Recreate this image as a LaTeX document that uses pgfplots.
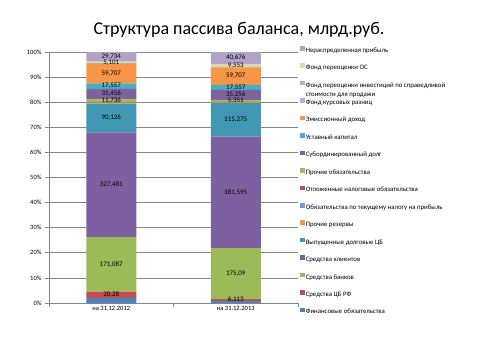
\documentclass[border=0pt]{standalone}
\usepackage{fontspec}
\setmainfont{Carlito}
\usepackage{pgfplots}
\usepackage{pgfplotstable}
\pgfplotsset{compat=1.18}
\definecolor{cfin}{HTML}{4F81BD}
\definecolor{ccb}{HTML}{C0504D}
\definecolor{cbank}{HTML}{9BBB59}
\definecolor{ckli}{HTML}{7D60A0}
\definecolor{cvyp}{HTML}{4198B3}
\definecolor{crez}{HTML}{F79646}
\definecolor{ctek}{HTML}{6F9ED5}
\definecolor{cotl}{HTML}{C0504D}
\definecolor{cproch}{HTML}{A2BA5C}
\definecolor{csub}{HTML}{7F62A0}
\definecolor{cust}{HTML}{4BACC6}
\definecolor{cemi}{HTML}{F79646}
\definecolor{ckur}{HTML}{A7B9E0}
\definecolor{cinv}{HTML}{D9A5A3}
\definecolor{cos}{HTML}{D4DDB0}
\definecolor{cnrp}{HTML}{B3A2C7}
\definecolor{gridgray}{HTML}{868686}
\pgfplotstableread{
x fin cb bank kli vyp rez tek otl proch sub ust emi kur inv os nrp tot
0 15 20.28 171.087 327.481 90.126 1.5 0.5 0.8 11.736 31.456 17.557 59.707 0.3 3 5.101 29.734 785.365
1 7 6.113 175.09 381.595 115.275 2 1 1 5.351 35.256 17.557 59.707 0.3 2 9.553 40.676 859.473
}\data
\pgfplotsset{
  sq legend/.style={legend image code/.code={\fill[##1] (0pt,-0.1pt) rectangle (4.6pt,4.5pt);}},
  common/.style={scale only axis, width=249pt, height=251pt, at={(49pt,57pt)}, anchor=south west,
    xmin=-0.5, xmax=1.5, ymin=0, ymax=100},
}
\newcommand{\seg}[2]{\addplot[fill=#2, draw=none] table[x=x, y expr=\thisrow{#1}/\thisrow{tot}*100]{\data};}
\newcommand{\lab}[2]{\addplot[draw=none, mark=none, point meta=\thisrow{#1}] table[x=x, y expr=(#2)/\thisrow{tot}*100]{\data};}
\begin{document}
\begin{tikzpicture}
\useasboundingbox (0,0) rectangle (480pt,360pt);
\begin{axis}[common,
  ybar stacked, bar width=50pt,
  every axis plot post/.append style={sq legend},
  axis lines=left, axis line style={-, draw=gridgray, line width=0.7pt},
  tick style={draw=gridgray, line width=0.7pt}, major tick length=4pt, tick align=outside,
  ymajorgrids, grid style={draw=gridgray, line width=0.7pt},
  ytick={0,10,...,100},
  yticklabels={0\%,10\%,20\%,30\%,40\%,50\%,60\%,70\%,80\%,90\%,100\%},
  xtick={-0.5,0.5,1.5}, xticklabels={,,},
  extra x ticks={0,1}, extra x tick labels={на 31.12.2012,на 31.12.2013},
  extra x tick style={major tick length=0pt},
  ticklabel style={font=\fontsize{6.5}{8}\selectfont, black},
  legend style={at={(axis description cs:1.008,1.025)}, anchor=north west, draw=none, fill=none,
    inner sep=0pt, row sep=8.7pt, font=\fontsize{6.8}{8}\selectfont,
    nodes={inner sep=1pt, text height=5pt, text depth=1.5pt}},
  legend cell align=left, reverse legend,
]
\seg{fin}{cfin}   \addlegendentry{Финансовые обязательства}
\seg{cb}{ccb}     \addlegendentry{Средства ЦБ РФ}
\seg{bank}{cbank} \addlegendentry{Средства банков}
\seg{kli}{ckli}   \addlegendentry{Средства клиентов}
\seg{vyp}{cvyp}   \addlegendentry{Выпущенные долговые ЦБ}
\seg{rez}{crez}   \addlegendentry{Прочие резервы}
\seg{tek}{ctek}   \addlegendentry{Обязательства по текущему налогу на прибыль}
\seg{otl}{cotl}   \addlegendentry{Отложенные налоговые обязательства}
\seg{proch}{cproch} \addlegendentry{Прочие обязательства}
\seg{sub}{csub}   \addlegendentry{Субординированный долг}
\seg{ust}{cust}   \addlegendentry{Уставный капитал}
\seg{emi}{cemi}   \addlegendentry{Эмиссионный доход}
\seg{kur}{ckur}   \addlegendentry{Фонд курсовых разниц}
\seg{inv}{cinv}   \addlegendentry{\smash{\vtop{\baselineskip=9pt\hbox{Фонд переоценки инвестиций по справедливой}\hbox{стоимости для продажи}}}}
\seg{os}{cos}     \addlegendentry{Фонд переоценки ОС}
\seg{nrp}{cnrp}   \addlegendentry{Нераспределенная прибыль}
\end{axis}
\begin{axis}[common, hide axis,
  nodes near coords={\pgfmathprintnumber[fixed,precision=3,use comma,1000 sep={},assume math mode=true]{\pgfplotspointmeta}},
  every node near coord/.append style={font=\fontsize{7}{8}\selectfont, anchor=center, black},
]
\lab{cb}{\thisrow{fin}+0.5*\thisrow{cb}}
\lab{bank}{\thisrow{fin}+\thisrow{cb}+0.5*\thisrow{bank}}
\lab{kli}{\thisrow{fin}+\thisrow{cb}+\thisrow{bank}+0.5*\thisrow{kli}}
\lab{vyp}{\thisrow{fin}+\thisrow{cb}+\thisrow{bank}+\thisrow{kli}+0.5*\thisrow{vyp}}
\lab{proch}{\thisrow{tot}-\thisrow{nrp}-\thisrow{os}-\thisrow{inv}-\thisrow{kur}-\thisrow{emi}-\thisrow{ust}-\thisrow{sub}-0.5*\thisrow{proch}}
\lab{sub}{\thisrow{tot}-\thisrow{nrp}-\thisrow{os}-\thisrow{inv}-\thisrow{kur}-\thisrow{emi}-\thisrow{ust}-0.5*\thisrow{sub}}
\lab{ust}{\thisrow{tot}-\thisrow{nrp}-\thisrow{os}-\thisrow{inv}-\thisrow{kur}-\thisrow{emi}-0.5*\thisrow{ust}}
\lab{emi}{\thisrow{tot}-\thisrow{nrp}-\thisrow{os}-\thisrow{inv}-\thisrow{kur}-0.5*\thisrow{emi}}
\lab{os}{\thisrow{tot}-\thisrow{nrp}-0.5*\thisrow{os}}
\lab{nrp}{\thisrow{tot}-0.5*\thisrow{nrp}}
\end{axis}
\node[font=\fontsize{18}{21}\selectfont, black] at (239pt,330pt) {Структура пассива баланса, млрд.руб.};
\end{tikzpicture}
\end{document}
